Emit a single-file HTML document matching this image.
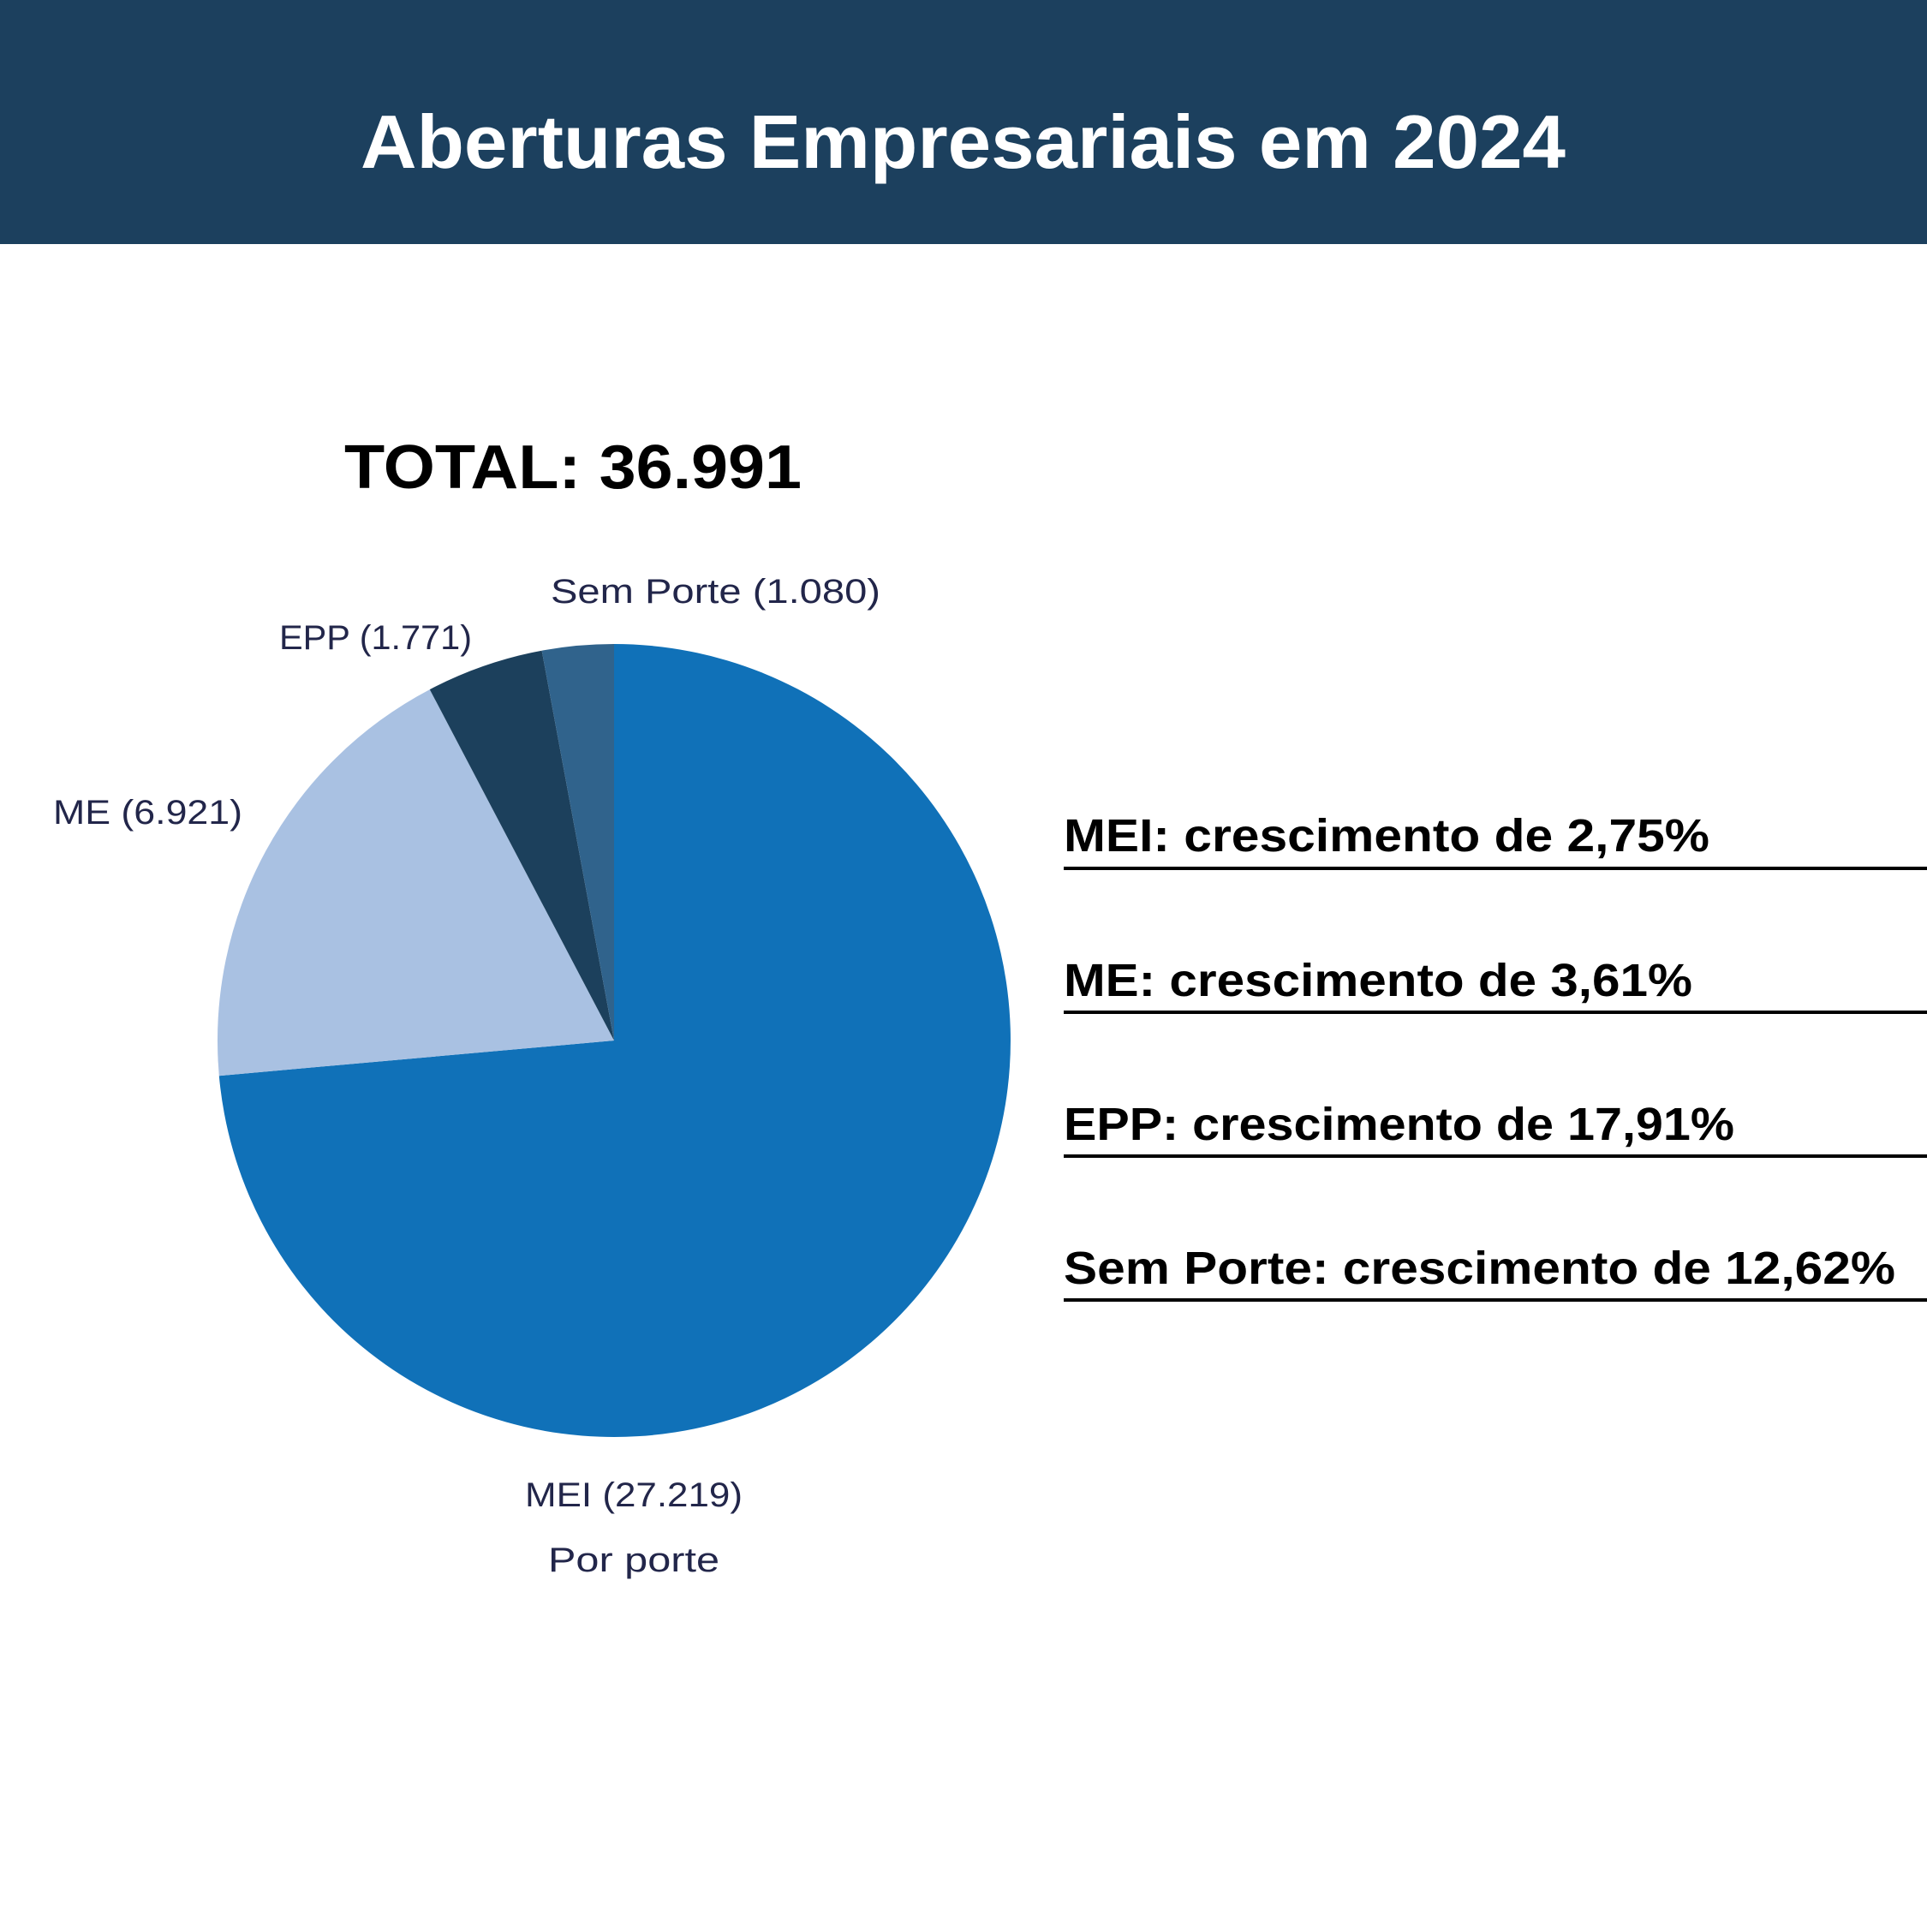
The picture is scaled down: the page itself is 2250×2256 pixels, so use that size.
<!DOCTYPE html>
<html><head><meta charset="utf-8"><style>
html,body{margin:0;padding:0;background:#fff;}
body{width:2250px;height:2251px;overflow:hidden;}
</style></head><body>
<svg width="2250" height="2251" viewBox="0 0 2250 2251" xmlns="http://www.w3.org/2000/svg" font-family="Liberation Sans, sans-serif">
<rect x="0" y="0" width="2250" height="285" fill="#1c405e"/>
<text x="421" y="196" textLength="1407" lengthAdjust="spacingAndGlyphs" font-size="88" font-weight="bold" fill="#fff">Aberturas Empresariais em 2024</text>
<text x="402" y="570" textLength="534" lengthAdjust="spacingAndGlyphs" font-size="72" font-weight="bold" fill="#000">TOTAL: 36.991</text>
<path d="M717,1215 L717,752 A463,463 0 1 1 255.8,1256.2 Z" fill="#1071b8"/>
<path d="M717,1215 L255.8,1256.2 A463,463 0 0 1 501.8,805.1 Z" fill="#a9c1e2"/>
<path d="M717,1215 L501.8,805.1 A463,463 0 0 1 632.6,759.7 Z" fill="#1c405c"/>
<path d="M717,1215 L632.6,759.7 A463,463 0 0 1 717,752 Z" fill="#30638c"/>
<g font-size="40" fill="#22264a" lengthAdjust="spacingAndGlyphs">
<text x="643" y="704" textLength="385" lengthAdjust="spacingAndGlyphs">Sem Porte (1.080)</text>
<text x="326" y="758" textLength="225" lengthAdjust="spacingAndGlyphs">EPP (1.771)</text>
<text x="62" y="962" textLength="221" lengthAdjust="spacingAndGlyphs">ME (6.921)</text>
<text x="613" y="1759" textLength="254" lengthAdjust="spacingAndGlyphs">MEI (27.219)</text>
<text x="640" y="1835" textLength="200" lengthAdjust="spacingAndGlyphs">Por porte</text>
</g>
<g font-size="54" font-weight="bold" fill="#000">
<text x="1242" y="994" textLength="754" lengthAdjust="spacingAndGlyphs">MEI: crescimento de 2,75%</text>
<text x="1242" y="1163" textLength="734" lengthAdjust="spacingAndGlyphs">ME: crescimento de 3,61%</text>
<text x="1242" y="1331" textLength="783" lengthAdjust="spacingAndGlyphs">EPP: crescimento de 17,91%</text>
<text x="1242" y="1499" textLength="971" lengthAdjust="spacingAndGlyphs">Sem Porte: crescimento de 12,62%</text>
</g>
<g fill="#000">
<rect x="1242" y="1012" width="1008" height="4"/>
<rect x="1242" y="1180" width="1008" height="4"/>
<rect x="1242" y="1348" width="1008" height="4"/>
<rect x="1242" y="1516" width="1008" height="4"/>
</g>
</svg>
</body></html>
